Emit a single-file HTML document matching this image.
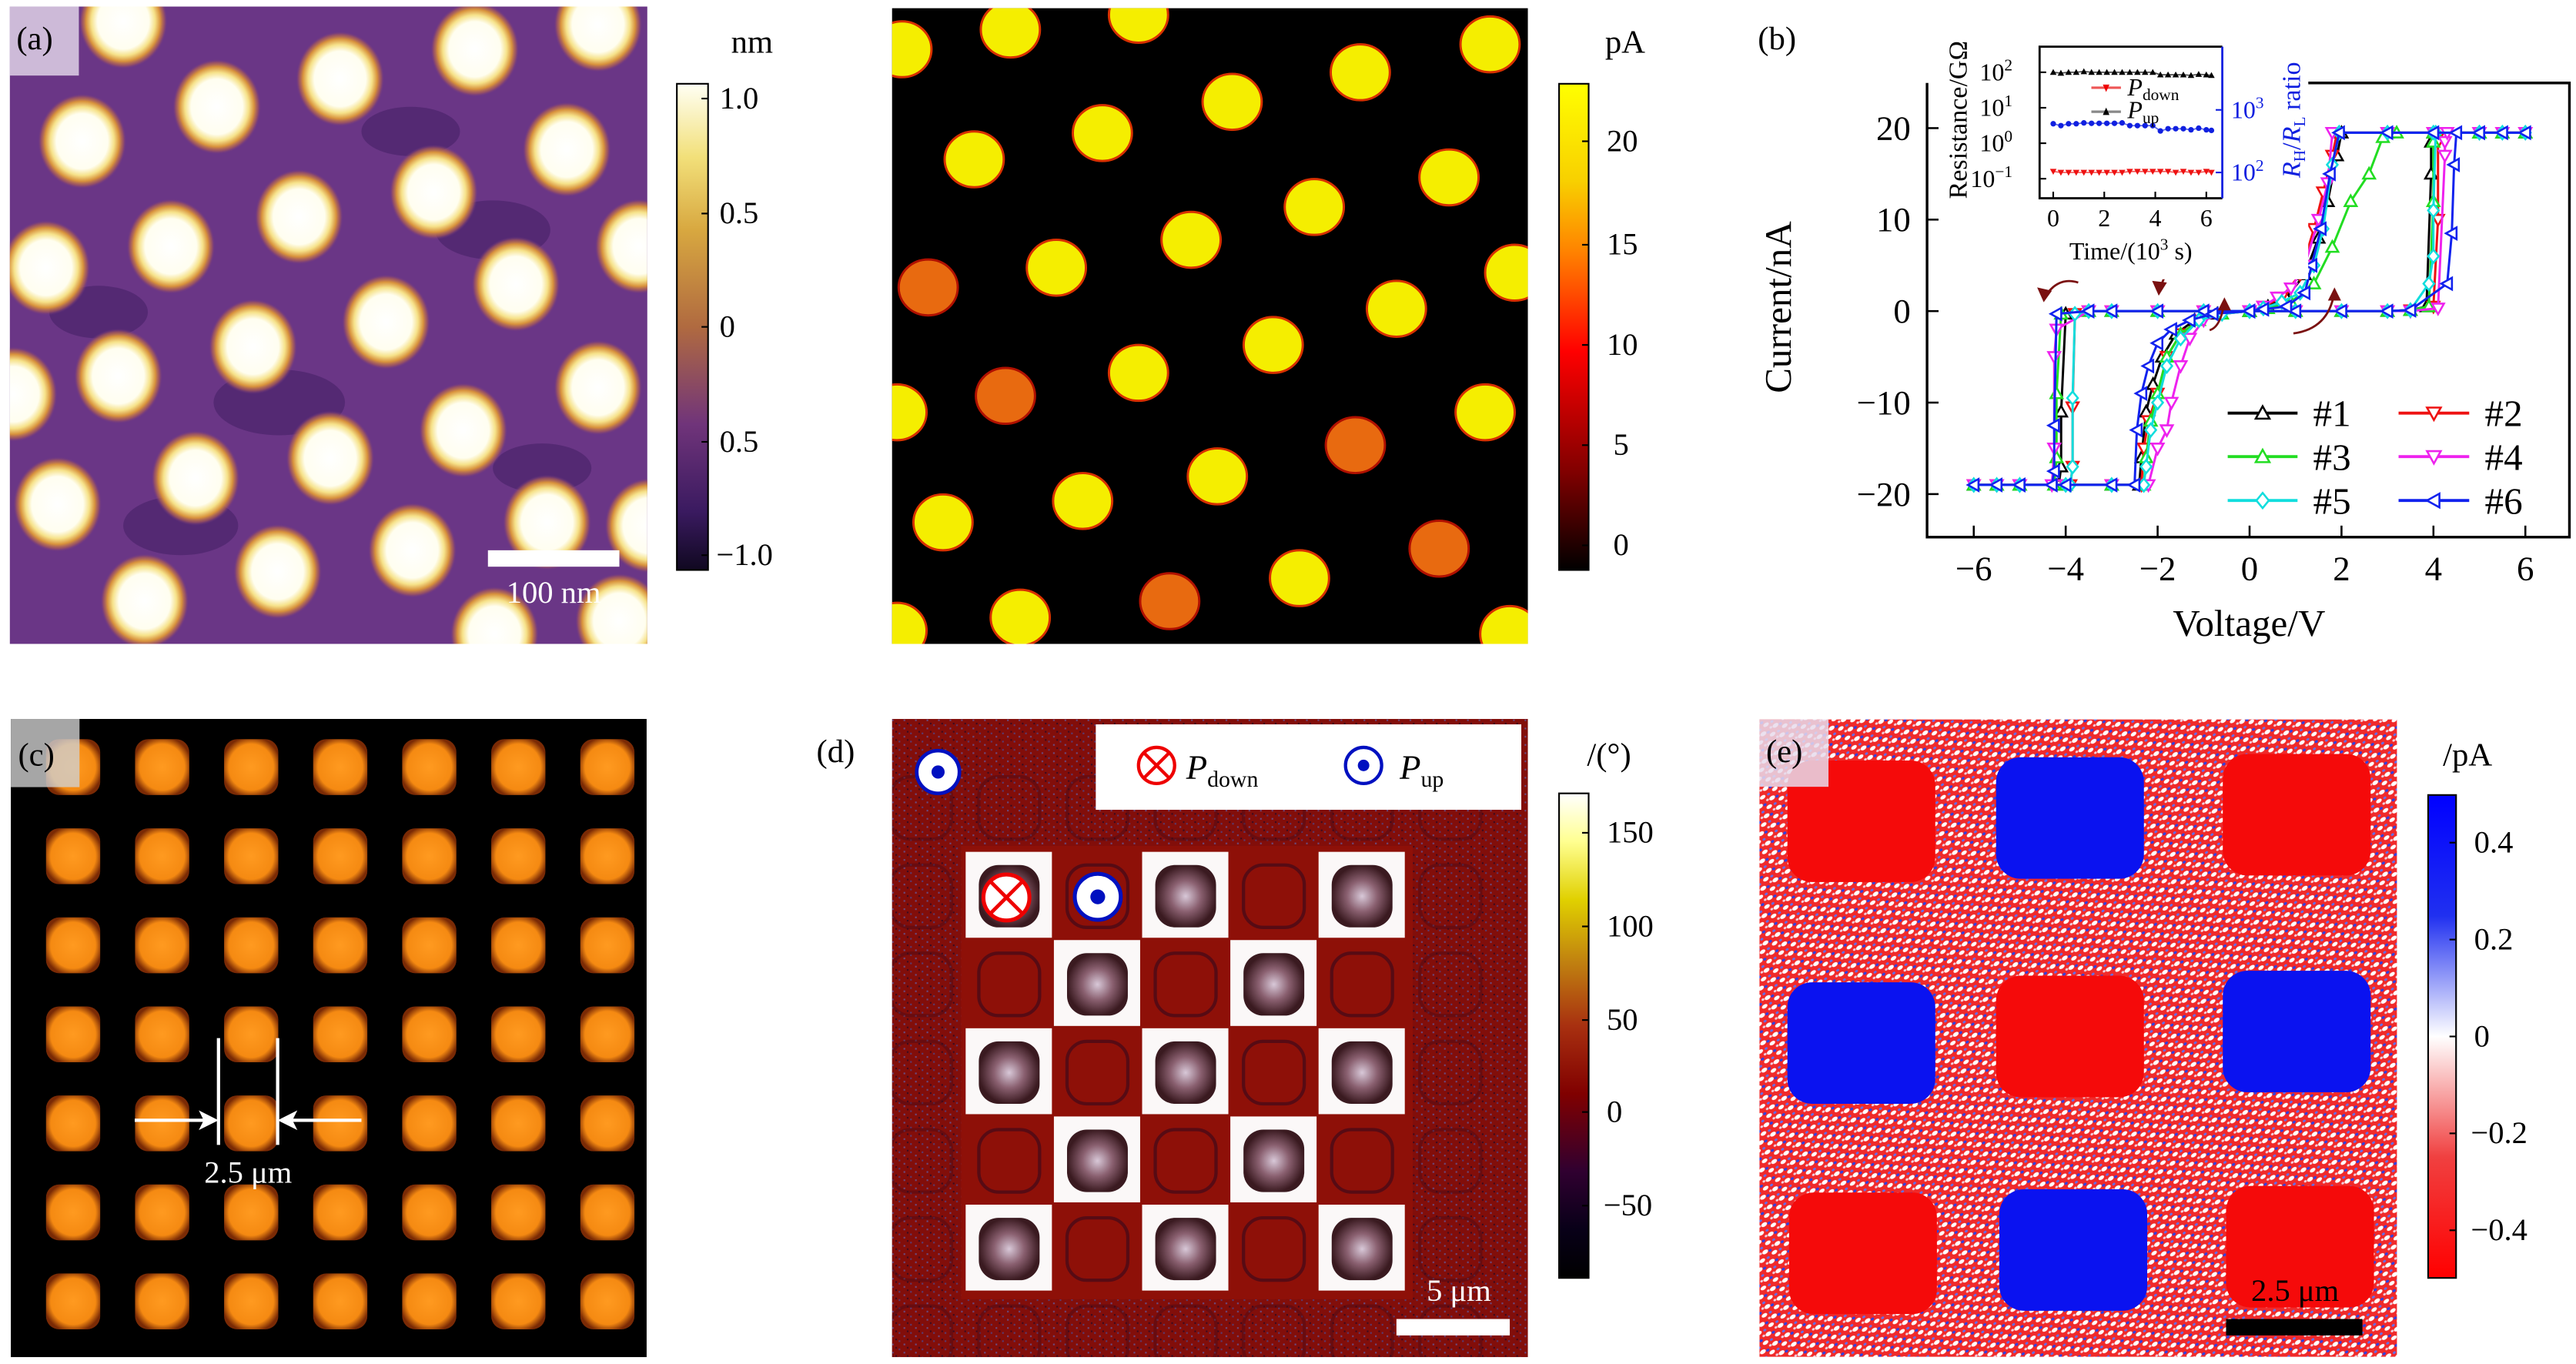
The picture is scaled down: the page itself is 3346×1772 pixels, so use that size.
<!DOCTYPE html>
<html><head><meta charset="utf-8">
<style>
html,body{margin:0;padding:0;background:#fff;}
svg{display:block;}
text{font-family:"Liberation Serif",serif;}
</style></head>
<body>
<svg id="fig" xmlns="http://www.w3.org/2000/svg" width="3346" height="1772" viewBox="0 0 1568 830.4" preserveAspectRatio="none">
<defs>
  <radialGradient id="afmBlob" cx="50%" cy="50%" r="50%">
    <stop offset="0" stop-color="#ffffff"/>
    <stop offset="0.58" stop-color="#fffef0"/>
    <stop offset="0.72" stop-color="#f6e28a"/>
    <stop offset="0.84" stop-color="#d8923c"/>
    <stop offset="0.93" stop-color="#a85a5a" stop-opacity="0.7"/>
    <stop offset="1" stop-color="#6a3686" stop-opacity="0"/>
  </radialGradient>
  <radialGradient id="cSq" cx="50%" cy="50%" r="55%">
    <stop offset="0" stop-color="#ff9a20"/>
    <stop offset="0.75" stop-color="#f58a12"/>
    <stop offset="1" stop-color="#7a2a05"/>
  </radialGradient>
  <radialGradient id="dBlob" cx="50%" cy="50%" r="50%">
    <stop offset="0" stop-color="#d8c8d8"/>
    <stop offset="0.5" stop-color="#8a6070"/>
    <stop offset="1" stop-color="#3a1a20"/>
  </radialGradient>
  <linearGradient id="cbA" x1="0" y1="0" x2="0" y2="1">
    <stop offset="0" stop-color="#fffff4"/>
    <stop offset="0.15" stop-color="#f2e07a"/>
    <stop offset="0.3" stop-color="#d8a840"/>
    <stop offset="0.5" stop-color="#b06a40"/>
    <stop offset="0.7" stop-color="#70347a"/>
    <stop offset="0.88" stop-color="#3a1a60"/>
    <stop offset="1" stop-color="#100820"/>
  </linearGradient>
  <linearGradient id="cbP" x1="0" y1="0" x2="0" y2="1">
    <stop offset="0" stop-color="#ffff00"/>
    <stop offset="0.2" stop-color="#f8d000"/>
    <stop offset="0.35" stop-color="#ff8000"/>
    <stop offset="0.55" stop-color="#ff0000"/>
    <stop offset="0.8" stop-color="#800000"/>
    <stop offset="1" stop-color="#000000"/>
  </linearGradient>
  <linearGradient id="cbD" x1="0" y1="0" x2="0" y2="1">
    <stop offset="0" stop-color="#ffffff"/>
    <stop offset="0.1" stop-color="#ffff90"/>
    <stop offset="0.22" stop-color="#e0d000"/>
    <stop offset="0.35" stop-color="#c08010"/>
    <stop offset="0.48" stop-color="#a83010"/>
    <stop offset="0.62" stop-color="#800000"/>
    <stop offset="0.78" stop-color="#300030"/>
    <stop offset="0.9" stop-color="#080018"/>
    <stop offset="1" stop-color="#000000"/>
  </linearGradient>
  <linearGradient id="cbE" x1="0" y1="0" x2="0" y2="1">
    <stop offset="0" stop-color="#0000ff"/>
    <stop offset="0.25" stop-color="#2030f0"/>
    <stop offset="0.5" stop-color="#ffffff"/>
    <stop offset="0.75" stop-color="#f04040"/>
    <stop offset="1" stop-color="#ff0000"/>
  </linearGradient>
  <pattern id="ePat" width="9" height="7" patternUnits="userSpaceOnUse" patternTransform="rotate(-35)">
    <rect width="9" height="7" fill="#f02a2a"/>
    <ellipse cx="2" cy="1.6" rx="2" ry="1.2" fill="#fff"/>
    <ellipse cx="6.5" cy="5" rx="1.9" ry="1.1" fill="#fff"/>
    <ellipse cx="5" cy="2.5" rx="1.1" ry="0.8" fill="#3040e0"/>
    <ellipse cx="8" cy="1" rx="0.9" ry="0.7" fill="#f0d0e0"/>
    <ellipse cx="1.5" cy="5.5" rx="1" ry="0.7" fill="#6070f0"/>
  </pattern>
  <pattern id="dNoise" width="7" height="5" patternUnits="userSpaceOnUse">
    <rect width="7" height="5" fill="#820e0a"/>
    <rect x="1" y="1" width="1" height="1" fill="#5a3a70"/>
    <rect x="4" y="3" width="1" height="1" fill="#6a4a80"/>
    <rect x="6" y="0" width="1" height="1" fill="#3a0a20"/>
  </pattern>
  <clipPath id="clipD"><rect x="543" y="437.7" width="387" height="388.5"/></clipPath>
</defs>

<!-- Panel (a) -->
<g id="panelA">
  <rect x="6" y="4" width="388" height="388" fill="#6a3686"/>
  <g id="aDark"></g>
  <g id="aBlobs"></g>
  <rect x="6" y="4" width="42" height="42" fill="#e6dcec" opacity="0.8"/>
  <text x="10" y="30" font-size="20">(a)</text>
  <rect x="297" y="335" width="80" height="10" fill="#fff"/>
  <text x="337" y="367" font-size="19" fill="#fff" text-anchor="middle">100 nm</text>
</g>
<g id="cbarA">
  <rect x="412" y="51" width="19" height="296" fill="url(#cbA)" stroke="#000" stroke-width="1"/>
  <text x="445" y="32" font-size="20">nm</text>
  <g font-size="19">
    <line x1="427" y1="60" x2="431" y2="60" stroke="#000"/><text x="438" y="66">1.0</text>
    <line x1="427" y1="130" x2="431" y2="130" stroke="#000"/><text x="438" y="136">0.5</text>
    <line x1="427" y1="199" x2="431" y2="199" stroke="#000"/><text x="438" y="205">0</text>
    <line x1="427" y1="269" x2="431" y2="269" stroke="#000"/><text x="438" y="275">0.5</text>
    <line x1="427" y1="338" x2="431" y2="338" stroke="#000"/><text x="436" y="344">−1.0</text>
  </g>
</g>

<!-- Panel pA -->
<g id="panelP">
  <rect x="543" y="5" width="387" height="387" fill="#000"/>
  <g id="pBlobs"></g>
</g>
<g id="cbarP">
  <rect x="949" y="51" width="18" height="296" fill="url(#cbP)" stroke="#000" stroke-width="1"/>
  <text x="977" y="32" font-size="20">pA</text>
  <g font-size="19">
    <line x1="963" y1="86" x2="967" y2="86" stroke="#000"/><text x="978" y="92">20</text>
    <line x1="963" y1="149" x2="967" y2="149" stroke="#000"/><text x="978" y="155">15</text>
    <line x1="963" y1="210" x2="967" y2="210" stroke="#000"/><text x="978" y="216">10</text>
    <line x1="963" y1="271" x2="967" y2="271" stroke="#000"/><text x="982" y="277">5</text>
    <line x1="963" y1="332" x2="967" y2="332" stroke="#000"/><text x="982" y="338">0</text>
  </g>
</g>

<!-- Panel (b) -->
<g id="panelB">
  <text x="1070" y="30" font-size="20">(b)</text>
  <g id="bAxes"></g>
  <g id="bSeries"></g>
  <g id="bLegend"></g>
  <g id="bArrows" stroke="#7a1010" stroke-width="1.3" fill="none"></g>
  <g id="inset"></g>
</g>

<!-- Panel (c) -->
<g id="panelC">
  <rect x="6.6" y="437.7" width="387" height="388.5" fill="#000"/>
  <g id="cSquares"></g>
  <rect x="6.6" y="437.7" width="41.8" height="41.5" fill="#d0d0d0" opacity="0.8"/>
  <text x="11" y="466" font-size="20">(c)</text>
  <g stroke="#fff" stroke-width="2" fill="#fff">
    <line x1="133" y1="632" x2="133" y2="697"/>
    <line x1="169" y1="632" x2="169" y2="697"/>
    <line x1="82" y1="682" x2="124" y2="682"/>
    <polygon points="133,682 121,676 124,682 121,688" stroke="none"/>
    <line x1="178" y1="682" x2="220" y2="682"/>
    <polygon points="169,682 181,676 178,682 181,688" stroke="none"/>
  </g>
  <text x="151" y="720" font-size="19" fill="#fff" text-anchor="middle">2.5 μm</text>
</g>

<!-- Panel (d) -->
<g id="panelD">
  <text x="497" y="464" font-size="20">(d)</text>
  <rect x="543" y="437.7" width="387" height="388.5" fill="url(#dNoise)"/>
  <rect x="585" y="515" width="275" height="276" fill="#8e1008"/>
  <g id="dCells" clip-path="url(#clipD)"></g>
  <rect x="667" y="441" width="259" height="52" fill="#fff"/>
  <g>
    <circle cx="704" cy="466" r="11" fill="#fff" stroke="#e00" stroke-width="2"/>
    <line x1="696.2" y1="458.2" x2="711.8" y2="473.8" stroke="#e00" stroke-width="2"/>
    <line x1="711.8" y1="458.2" x2="696.2" y2="473.8" stroke="#e00" stroke-width="2"/>
    <text x="722" y="474" font-size="21" font-style="italic">P<tspan font-size="14" font-style="normal" dy="5">down</tspan></text>
  </g>
  <g>
    <circle cx="830" cy="466" r="11" fill="#fff" stroke="#0010c0" stroke-width="2"/>
    <circle cx="830" cy="466" r="3.5" fill="#0010c0"/>
    <text x="852" y="474" font-size="21" font-style="italic">P<tspan font-size="14" font-style="normal" dy="5">up</tspan></text>
  </g>
  <g>
    <circle cx="571" cy="470" r="13" fill="#fff" stroke="#0010c0" stroke-width="2.2"/>
    <circle cx="571" cy="470" r="4" fill="#0010c0"/>
  </g>
  <g>
    <circle cx="612.6" cy="546.4" r="14" fill="#fff" stroke="#e00" stroke-width="2.4"/>
    <line x1="602.7" y1="536.5" x2="622.5" y2="556.3" stroke="#e00" stroke-width="2.2"/>
    <line x1="622.5" y1="536.5" x2="602.7" y2="556.3" stroke="#e00" stroke-width="2.2"/>
  </g>
  <g>
    <circle cx="668.2" cy="546" r="14" fill="#fff" stroke="#0010c0" stroke-width="2.4"/>
    <circle cx="668.2" cy="546" r="4.5" fill="#0010c0"/>
  </g>
  <rect x="850" y="803" width="69" height="10" fill="#fff"/>
  <text x="888" y="792" font-size="19" fill="#fff" text-anchor="middle">5 μm</text>
</g>
<g id="cbarD">
  <rect x="949" y="483" width="18" height="295" fill="url(#cbD)" stroke="#000" stroke-width="1"/>
  <text x="966" y="466" font-size="20">/(°)</text>
  <g font-size="19">
    <line x1="963" y1="507" x2="967" y2="507" stroke="#000"/><text x="978" y="513">150</text>
    <line x1="963" y1="564" x2="967" y2="564" stroke="#000"/><text x="978" y="570">100</text>
    <line x1="963" y1="621" x2="967" y2="621" stroke="#000"/><text x="978" y="627">50</text>
    <line x1="963" y1="677" x2="967" y2="677" stroke="#000"/><text x="978" y="683">0</text>
    <line x1="963" y1="734" x2="967" y2="734" stroke="#000"/><text x="976" y="740">−50</text>
  </g>
</g>

<!-- Panel (e) -->
<g id="panelE">
  <rect x="1071" y="438" width="388" height="388" fill="url(#ePat)"/>
  <g id="eSquares"></g>
  <rect x="1071" y="438" width="42" height="41" fill="#e8dcec" opacity="0.85"/>
  <text x="1075" y="464" font-size="20">(e)</text>
  <rect x="1355" y="803" width="83" height="10" fill="#000"/>
  <text x="1397" y="792" font-size="19" text-anchor="middle">2.5 μm</text>
</g>
<g id="cbarE">
  <rect x="1478" y="484" width="17" height="294" fill="url(#cbE)" stroke="#000" stroke-width="1"/>
  <text x="1487" y="466" font-size="20">/pA</text>
  <g font-size="19">
    <line x1="1491" y1="513" x2="1495" y2="513" stroke="#000"/><text x="1506" y="519">0.4</text>
    <line x1="1491" y1="572" x2="1495" y2="572" stroke="#000"/><text x="1506" y="578">0.2</text>
    <line x1="1491" y1="631" x2="1495" y2="631" stroke="#000"/><text x="1506" y="637">0</text>
    <line x1="1491" y1="690" x2="1495" y2="690" stroke="#000"/><text x="1504" y="696">−0.2</text>
    <line x1="1491" y1="749" x2="1495" y2="749" stroke="#000"/><text x="1504" y="755">−0.4</text>
  </g>
</g>
</svg>

<script>
// ===== Panel (b) data: I-V hysteresis loops =====
const xTicks = [-6,-4,-2,0,2,4,6];
const yTicks = [20,10,0,-10,-20];
const seriesNames = ["#1","#2","#3","#4","#5","#6"];
const seriesColors = ["#000000","#ee1111","#22dd22","#ee22ee","#11dddd","#1122ee"];
const seriesMarkers = ["up","down","up","down","diamond","left"];
const v1 = [0,1,2,3,3.5,3.85,3.95,3.95,4.0,5,5.5,6,5,4,3,2.0,1.9,1.7,1.5,1.2,0.8,0.4,0,-1,-2,-3,-3.5,-4.0,-4.1,-4.1,-4.15,-5,-5.5,-6,-5,-4,-3,-2.4,-2.35,-2.25,-2.1,-1.9,-1.6,-1.2,-0.7,0];
const i1 = [0,0,0,0,0.1,0.5,15,18.5,19.5,19.5,19.5,19.5,19.5,19.5,19.5,19.5,17,12,8,4,1.5,0.5,0,0,0,0,0,-0.3,-11,-17,-19,-19,-19,-19,-19,-19,-19,-19,-16,-11,-8,-5,-2.5,-1,-0.3,0];
const v2 = [0,1,2,3,3.5,4.0,4.1,4.1,4.15,5,5.5,6,5,4,3,1.9,1.8,1.6,1.4,1.1,0.7,0.3,0,-1,-2,-3,-3.5,-3.8,-3.85,-3.85,-3.9,-5,-5.5,-6,-5,-4,-3,-2.35,-2.3,-2.2,-2.0,-1.8,-1.5,-1.1,-0.6,0];
const i2 = [0,0,0,0,0.1,0.5,10,18.5,19.5,19.5,19.5,19.5,19.5,19.5,19.5,19.5,17,13,9,4,1.5,0.5,0,0,0,0,0,-0.3,-10.5,-17,-19,-19,-19,-19,-19,-19,-19,-19,-15,-12,-9,-5,-2.5,-1,-0.3,0];
const v3 = [0,1,2,3,3.5,3.9,4.0,4.0,4.05,5,5.5,6,5,4,3.2,2.9,2.6,2.2,1.8,1.4,0.9,0.4,0,-1,-2,-3,-3.5,-4.1,-4.2,-4.2,-4.25,-5,-5.5,-6,-5,-4,-3,-2.3,-2.25,-2.15,-2.0,-1.8,-1.5,-1.1,-0.6,0];
const i3 = [0,0,0,0,0.1,0.5,12,18.5,19.5,19.5,19.5,19.5,19.5,19.5,19.5,19,15,12,7,3,1,0.3,0,0,0,0,0,-0.3,-9,-16,-19,-19,-19,-19,-19,-19,-19,-19,-16,-12,-9,-5,-2.5,-1,-0.3,0];
const v4 = [0,1,2,3,3.5,4.1,4.25,4.25,4.3,5,5.5,6,5,4,3,1.8,1.7,1.5,1.2,0.9,0.6,0.3,0,-1,-2,-3,-3.5,-4.2,-4.25,-4.25,-4.3,-5,-5.5,-6,-5,-4,-3,-2.2,-2.0,-1.8,-1.7,-1.5,-1.3,-1.0,-0.6,0];
const i4 = [0,0,0,0,0,0.3,17,18.5,19.5,19.5,19.5,19.5,19.5,19.5,19.5,19.5,14,10,5,2.5,1.5,0.5,0,0,0,0,0,-2,-5,-15,-19,-19,-19,-19,-19,-19,-19,-19,-15,-13,-10,-6,-3,-1,-0.3,0];
const v5 = [0,1,2,3,3.5,3.9,4.0,4.0,4.05,5,5.5,6,5,4,3,1.95,1.8,1.6,1.4,1.1,0.7,0.3,0,-1,-2,-3,-3.5,-3.8,-3.85,-3.85,-3.9,-5,-5.5,-6,-5,-4,-3,-2.3,-2.25,-2.15,-2.0,-1.8,-1.5,-1.1,-0.6,0];
const i5 = [0,0,0,0,0.1,3,6,11,19.5,19.5,19.5,19.5,19.5,19.5,19.5,19.5,16,9,5,2,1,0.3,0,0,0,0,0,-0.3,-9.5,-17,-19,-19,-19,-19,-19,-19,-19,-19,-17,-13,-10,-6,-3,-1,-0.3,0];
const v6 = [0,1,2,3,3.5,4.3,4.4,4.45,4.5,5,5.5,6,5,4,3,1.95,1.75,1.55,1.35,1.2,0.8,0.3,0,-1,-2,-3,-3.5,-4.2,-4.25,-4.25,-4.3,-5,-5.5,-6,-5,-4,-3,-2.5,-2.45,-2.35,-2.2,-2.0,-1.7,-1.3,-0.8,0];
const i6 = [0,0,0,0,0.1,3,8.5,16,19.5,19.5,19.5,19.5,19.5,19.5,19.5,19.5,15,9,5,2,0.5,0.2,0,0,0,0,0,-0.3,-12.5,-17.5,-19,-19,-19,-19,-19,-19,-19,-19,-13,-9,-6,-3.5,-2,-1,-0.3,0];
const seriesV = [v1,v2,v3,v4,v5,v6];
const seriesI = [i1,i2,i3,i4,i5,i6];

// ===== Inset data =====
const insetTime = [0,0.3,0.6,0.9,1.2,1.5,1.8,2.1,2.4,2.7,3.0,3.3,3.6,3.9,4.2,4.5,4.8,5.1,5.4,5.7,6.0,6.2];
const insetRup = [100,95,100,100,105,100,100,100,100,100,100,100,100,100,85,85,85,85,82,88,85,82];
const insetRdown = [0.16,0.15,0.15,0.15,0.15,0.15,0.15,0.15,0.15,0.15,0.16,0.16,0.16,0.16,0.16,0.16,0.15,0.16,0.15,0.15,0.16,0.15];
const insetRatio = [600,560,600,600,620,610,610,610,610,620,560,560,560,560,460,500,500,500,480,510,480,470];
const insetXTicks = [0,2,4,6];
const insetLeftTicks = [2,1,0,-1];
const insetRightTicks = [3,2];

const NS = "http://www.w3.org/2000/svg";
function mk(tag, attrs, parent){
  const e = document.createElementNS(NS, tag);
  for (const k in attrs) e.setAttribute(k, attrs[k]);
  if (parent) parent.appendChild(e);
  return e;
}

const X0 = 1369.3, XS = 27.98, Y0 = 189.4, YS = 5.57;
const xs = v => X0 + v*XS;
const ys = i => Y0 - i*YS;
const bL = 1173, bR = 1564, bT = 50.5, bB = 327;

(function drawAxes(){
  const g = document.getElementById('bAxes');
  const frame = mk('path', {d:`M${bL},${bT} L${bL},${bB} L${bR},${bB} L${bR},${bT} L1405,${bT}`, fill:'none', stroke:'#000', 'stroke-width':1.6}, g);
  
  
  xTicks.forEach(t => {
    const x = xs(t);
    const tk = mk('line', {x1:x, y1:bB, x2:x, y2:bB-7, stroke:'#000', 'stroke-width':1.2}, g);
    
    
    const lb = mk('text', {x:x, y:bB+26, 'font-size':21, 'text-anchor':'middle'}, g);
    lb.textContent = t < 0 ? '−' + Math.abs(t) : String(t);
    
    
  });
  yTicks.forEach(t => {
    const y = ys(t);
    const tk = mk('line', {x1:bL, y1:y, x2:bL+7, y2:y, stroke:'#000', 'stroke-width':1.2}, g);
    
    
    const lb = mk('text', {x:1163, y:y+7, 'font-size':21, 'text-anchor':'end'}, g);
    lb.textContent = t < 0 ? '−' + Math.abs(t) : String(t);
    
    
  });
  const xt = mk('text', {x:1369, y:387, 'font-size':23, 'text-anchor':'middle'}, g);
  xt.textContent = 'Voltage/V';
  
  
  const yt = mk('text', {x:0, y:0, 'font-size':23, 'text-anchor':'middle', transform:'translate(1090,187) rotate(-90)'}, g);
  yt.textContent = 'Current/nA';
  
  
})();

function marker(type, x, y, color, parent, s){
  s = s || 3.6;
  let pts;
  if (type === 'up') pts = [[x,y-s],[x+s,y+s*0.8],[x-s,y+s*0.8]];
  else if (type === 'down') pts = [[x,y+s],[x+s,y-s*0.8],[x-s,y-s*0.8]];
  else if (type === 'left') pts = [[x-s,y],[x+s*0.8,y-s],[x+s*0.8,y+s]];
  else pts = [[x,y-s*1.1],[x+s*0.9,y],[x,y+s*1.1],[x-s*0.9,y]];
  return mk('polygon', {points: pts.map(p=>p.join(',')).join(' '), fill:'#fff', stroke:color, 'stroke-width':1.2}, parent);
}

(function drawSeries(){
  const g = document.getElementById('bSeries');
  seriesV.forEach((V, k) => {
    const I = seriesI[k];
    const sg = mk('g', {}, g);
    
    
    const d = V.map((v, j) => (j ? 'L' : 'M') + xs(v).toFixed(1) + ',' + ys(I[j]).toFixed(1)).join(' ');
    const ln = mk('path', {d:d, fill:'none', stroke:seriesColors[k], 'stroke-width':1.4}, sg);
    
    
    V.forEach((v, j) => {
      const m = marker(seriesMarkers[k], xs(v), ys(I[j]), seriesColors[k], sg);
      
      
    });
  });
})();

(function drawLegend(){
  const g = document.getElementById('bLegend');
  const rows = [251.5, 278, 304.7];
  seriesNames.forEach((n, k) => {
    const col = k % 2, row = Math.floor(k/2);
    const lx1 = col ? 1460 : 1356, lx2 = col ? 1503 : 1398.5, tx = col ? 1512.5 : 1408;
    const y = rows[row];
    const eg = mk('g', {}, g);
    
    
    mk('line', {x1:lx1, y1:y, x2:lx2, y2:y, stroke:seriesColors[k], 'stroke-width':1.8}, eg);
    marker(seriesMarkers[k], (lx1+lx2)/2, y, seriesColors[k], eg, 4.2);
    const t = mk('text', {x:tx, y:y+8, 'font-size':23}, eg);
    t.textContent = n;
  });
})();

(function drawArrows(){
  const g = document.getElementById('bArrows');
  const paths = [
    'M1265,172 Q1252,168 1244,182', 'M1325,153 Q1318,166 1314,178',
    'M1345,201 Q1352,199 1354,183', 'M1396,203 Q1418,200 1421,177'
  ];
  paths.forEach(p => {
    const a = mk('path', {d:p}, g);
    
    
  });
  [[1244,184,1240,175,1249,177],[1314,180,1310,171,1319,172],[1354,181,1350,189,1358,189],[1421,175,1417,183,1425,183]].forEach(q=>{
    const h = mk('polygon', {points:`${q[0]},${q[1]} ${q[2]},${q[3]} ${q[4]},${q[5]}`, fill:'#7a1010', stroke:'none'}, g);
    
    
  });
})();

(function drawInset(){
  const g = document.getElementById('inset');
  const iL = 1241.5, iR = 1352.7, iT = 28.4, iB = 120.7;
  const tx = t => 1249.8 + t*15.53;
  const lyL = lg => 87.2 - lg*21.6;
  const lyR = lg => 66.9 + (3-lg)*38.1;
  const bg = mk('rect', {x:1180, y:0, width:225, height:170, fill:'#fff'}, g);
  
  
  const box = mk('path', {d:`M${iR},${iT} L${iL},${iT} L${iL},${iB} L${iR},${iB}`, fill:'none', stroke:'#000', 'stroke-width':1.3}, g);
  
  
  const ra = mk('line', {x1:iR, y1:iT, x2:iR, y2:iB, stroke:'#1020e0', 'stroke-width':1.3}, g);
  
  
  insetXTicks.forEach(t => {
    mk('line', {x1:tx(t), y1:iB, x2:tx(t), y2:iB-4, stroke:'#000'}, g);
    const l = mk('text', {x:tx(t), y:iB+17, 'font-size':15, 'text-anchor':'middle'}, g);
    l.textContent = String(t);
    
    
  });
  insetLeftTicks.forEach(p => {
    const y = lyL(p);
    mk('line', {x1:iL, y1:y, x2:iL+4, y2:y, stroke:'#000'}, g);
    const l = mk('text', {x:1225, y:y+5, 'font-size':15, 'text-anchor':'end'}, g);
    l.textContent = '10';
    const s = mk('tspan', {'font-size':10, dy:-6}, l);
    s.textContent = p < 0 ? '−' + Math.abs(p) : String(p);
    
    
  });
  insetRightTicks.forEach(p => {
    const y = lyR(p);
    mk('line', {x1:iR, y1:y, x2:iR-4, y2:y, stroke:'#1020e0'}, g);
    const l = mk('text', {x:1358, y:y+5, 'font-size':15, fill:'#1020e0'}, g);
    l.textContent = '10';
    const s = mk('tspan', {'font-size':10, dy:-6}, l);
    s.textContent = String(p);
    
    
  });
  const lines = [
    [insetRup, v => lyL(Math.log10(v)), '#000', 'up'],
    [insetRdown, v => lyL(Math.log10(v)), '#ee1111', 'down'],
    [insetRatio, v => lyR(Math.log10(v)), '#1020e0', 'dot']
  ];
  lines.forEach((L, k) => {
    const arr = L[0], f = L[1], c = L[2];
    const sg = mk('g', {}, g);
    
    
    mk('path', {d: arr.map((v,j)=>(j?'L':'M')+tx(insetTime[j]).toFixed(1)+','+f(v).toFixed(1)).join(' '), fill:'none', stroke:c, 'stroke-width':0.8, opacity:0.7}, sg);
    arr.forEach((v,j) => {
      const x = tx(insetTime[j]), y = f(v);
      let m;
      if (L[3]==='dot') m = mk('circle', {cx:x, cy:y, r:1.7, fill:c}, sg);
      else if (L[3]==='up') m = mk('polygon', {points:`${x},${y-2} ${x+2},${y+1.6} ${x-2},${y+1.6}`, fill:c}, sg);
      else m = mk('polygon', {points:`${x},${y+2} ${x+2},${y-1.6} ${x-2},${y-1.6}`, fill:c}, sg);
      
      
    });
  });
  const lg1 = mk('g', {}, g);
  
  
  mk('line', {x1:1273, y1:53.4, x2:1291, y2:53.4, stroke:'#ee5555', 'stroke-width':1.5}, lg1);
  mk('polygon', {points:'1282,56 1284,51.5 1280,51.5', fill:'#e00'}, lg1);
  const t1 = mk('text', {x:1295, y:58, 'font-size':15, 'font-style':'italic'}, lg1);
  t1.textContent = 'P';
  const t1s = mk('tspan', {'font-size':10, 'font-style':'normal', dy:3}, t1); t1s.textContent = 'down';
  const lg2 = mk('g', {}, g);
  
  
  mk('line', {x1:1273, y1:68, x2:1291, y2:68, stroke:'#888', 'stroke-width':1.5}, lg2);
  mk('polygon', {points:'1282,65.5 1284,70 1280,70', fill:'#000'}, lg2);
  const t2 = mk('text', {x:1295, y:72, 'font-size':15, 'font-style':'italic'}, lg2);
  t2.textContent = 'P';
  const t2s = mk('tspan', {'font-size':10, 'font-style':'normal', dy:3}, t2); t2s.textContent = 'up';
  const tt = mk('text', {x:1297, y:158, 'font-size':15, 'text-anchor':'middle'}, g);
  tt.textContent = 'Time/(10';
  const tts = mk('tspan', {'font-size':10, dy:-6}, tt); tts.textContent = '3';
  const tts2 = mk('tspan', {dy:6}, tt); tts2.textContent = ' s)';
  
  
  const rt = mk('text', {x:0, y:0, 'font-size':16, 'text-anchor':'middle', transform:'translate(1197,73) rotate(-90)'}, g);
  rt.textContent = 'Resistance/GΩ';
  
  
  const rr = mk('text', {x:0, y:0, 'font-size':16, fill:'#1020e0', 'text-anchor':'middle', transform:'translate(1400,73) rotate(-90)'}, g);
  const rr1 = mk('tspan', {'font-style':'italic'}, rr); rr1.textContent = 'R';
  const rr2 = mk('tspan', {'font-size':10, dy:3}, rr); rr2.textContent = 'H';
  const rr3 = mk('tspan', {dy:-3}, rr); rr3.textContent = '/';
  const rr4 = mk('tspan', {'font-style':'italic'}, rr); rr4.textContent = 'R';
  const rr5 = mk('tspan', {'font-size':10, dy:3}, rr); rr5.textContent = 'L';
  const rr6 = mk('tspan', {dy:-3}, rr); rr6.textContent = ' ratio';
  
  
})();

// ===== Panel (a) blobs =====
const aBlobX = [75,289,364,207,132,50,345,264,182,104,28,389,314,235,154,72,364,282,201,119,35,333,251,169,88,377,301,8,395];
const aBlobY = [13,30,15,48,65,86,91,117,132,150,163,150,173,196,211,229,236,262,279,291,307,318,335,348,366,378,386,240,320];
(function(){
  const gd = document.getElementById('aDark');
  [[170,245,40,20],[300,140,35,18],[60,190,30,16],[250,80,30,15],[110,320,35,18],[330,285,30,15]].forEach(d=>{
    const e = mk('ellipse', {cx:d[0], cy:d[1], rx:d[2], ry:d[3], fill:'#3a1a5e', opacity:0.45}, gd);
    
    
  });
  const g = document.getElementById('aBlobs');
  const cp = mk('clipPath', {id:'clipA'}, g);
  mk('rect', {x:6, y:4, width:388, height:388}, cp);
  const gg = mk('g', {'clip-path':'url(#clipA)'}, g);
  aBlobX.forEach((x,k) => {
    const e = mk('ellipse', {cx:x, cy:aBlobY[k], rx:27, ry:29, fill:'url(#afmBlob)'}, gg);
    
    
  });
})();

// ===== pA panel blobs =====
const pBlobX = [615,693,907,828,750,671,593,882,800,725,643,565,922,850,775,693,612,904,825,741,659,574,876,791,712,621,546,919,549,546];
const pBlobY = [18,9,27,44,62,81,97,108,126,146,163,175,166,188,210,227,241,251,271,290,305,318,334,352,366,376,384,386,30,251];
const pRed = [0,0,0,0,0,0,0,0,0,0,0,1,0,0,0,0,1,0,1,0,0,0,1,0,1,0,0,0,0,0];
(function(){
  const g = document.getElementById('pBlobs');
  const cp = mk('clipPath', {id:'clipP'}, g);
  mk('rect', {x:543, y:5, width:387, height:387}, cp);
  const gg = mk('g', {'clip-path':'url(#clipP)'}, g);
  pBlobX.forEach((x,k) => {
    const red = pRed[k];
    const e = mk('ellipse', {cx:x, cy:pBlobY[k], rx:18, ry:17, fill: red ? '#e86a10' : '#f5ee00', stroke: red ? '#b01000' : '#d83000', 'stroke-width':1.4}, gg);
    
    
  });
})();

// ===== Panel (c) squares =====
const cCols = [44.5,98.7,152.9,207.1,261.3,315.5,369.7];
const cRows = [467,521.3,575.5,629.7,683.9,738.1,792.3];
(function(){
  const g = document.getElementById('cSquares');
  cRows.forEach(y => cCols.forEach(x => {
    const r = mk('rect', {x:x-16.5, y:y-17, width:33, height:34, rx:8, fill:'url(#cSq)'}, g);
    
    
  }));
})();

// ===== Panel (d) checkerboard =====
(function(){
  const g = document.getElementById('dCells');
  const x0 = 587.8, y0 = 518.6, p = 53.7;
  for (let r = -1; r < 6; r++) for (let c = -1; c < 6; c++) {
    const x = x0 + c*p, y = y0 + r*p;
    const inside = r >= 0 && r < 5 && c >= 0 && c < 5;
    if (inside && (r + c) % 2 === 0) {
      const w = mk('rect', {x:x, y:y, width:52.5, height:52.3, fill:'#fbf8f8'}, g);
      
      
      const b = mk('rect', {x:x+8, y:y+8, width:37, height:38, rx:12, fill:'url(#dBlob)'}, g);
      
      
    } else {
      const o = mk('rect', {x:x+8, y:y+8, width:37, height:38, rx:12, fill:'none', stroke:'#4a0a18', 'stroke-width':2, opacity: inside ? 0.8 : 0.45}, g);
      
      
    }
  }
})();

// ===== Panel (e) squares =====
const eCx = [1133,1260,1398,1133,1260,1398,1134,1262,1400];
const eCy = [500,498,496,635,631,628,763,761,759];
const eBlue = [0,1,0,1,0,1,0,1,0];
(function(){
  const g = document.getElementById('eSquares');
  eCx.forEach((x,k) => {
    const r = mk('rect', {x:x-45, y:eCy[k]-37, width:90, height:74, rx:15, fill: eBlue[k] ? '#0a12f0' : '#f50a0a'}, g);
    
    
  });
})();
</script>
</body></html>
